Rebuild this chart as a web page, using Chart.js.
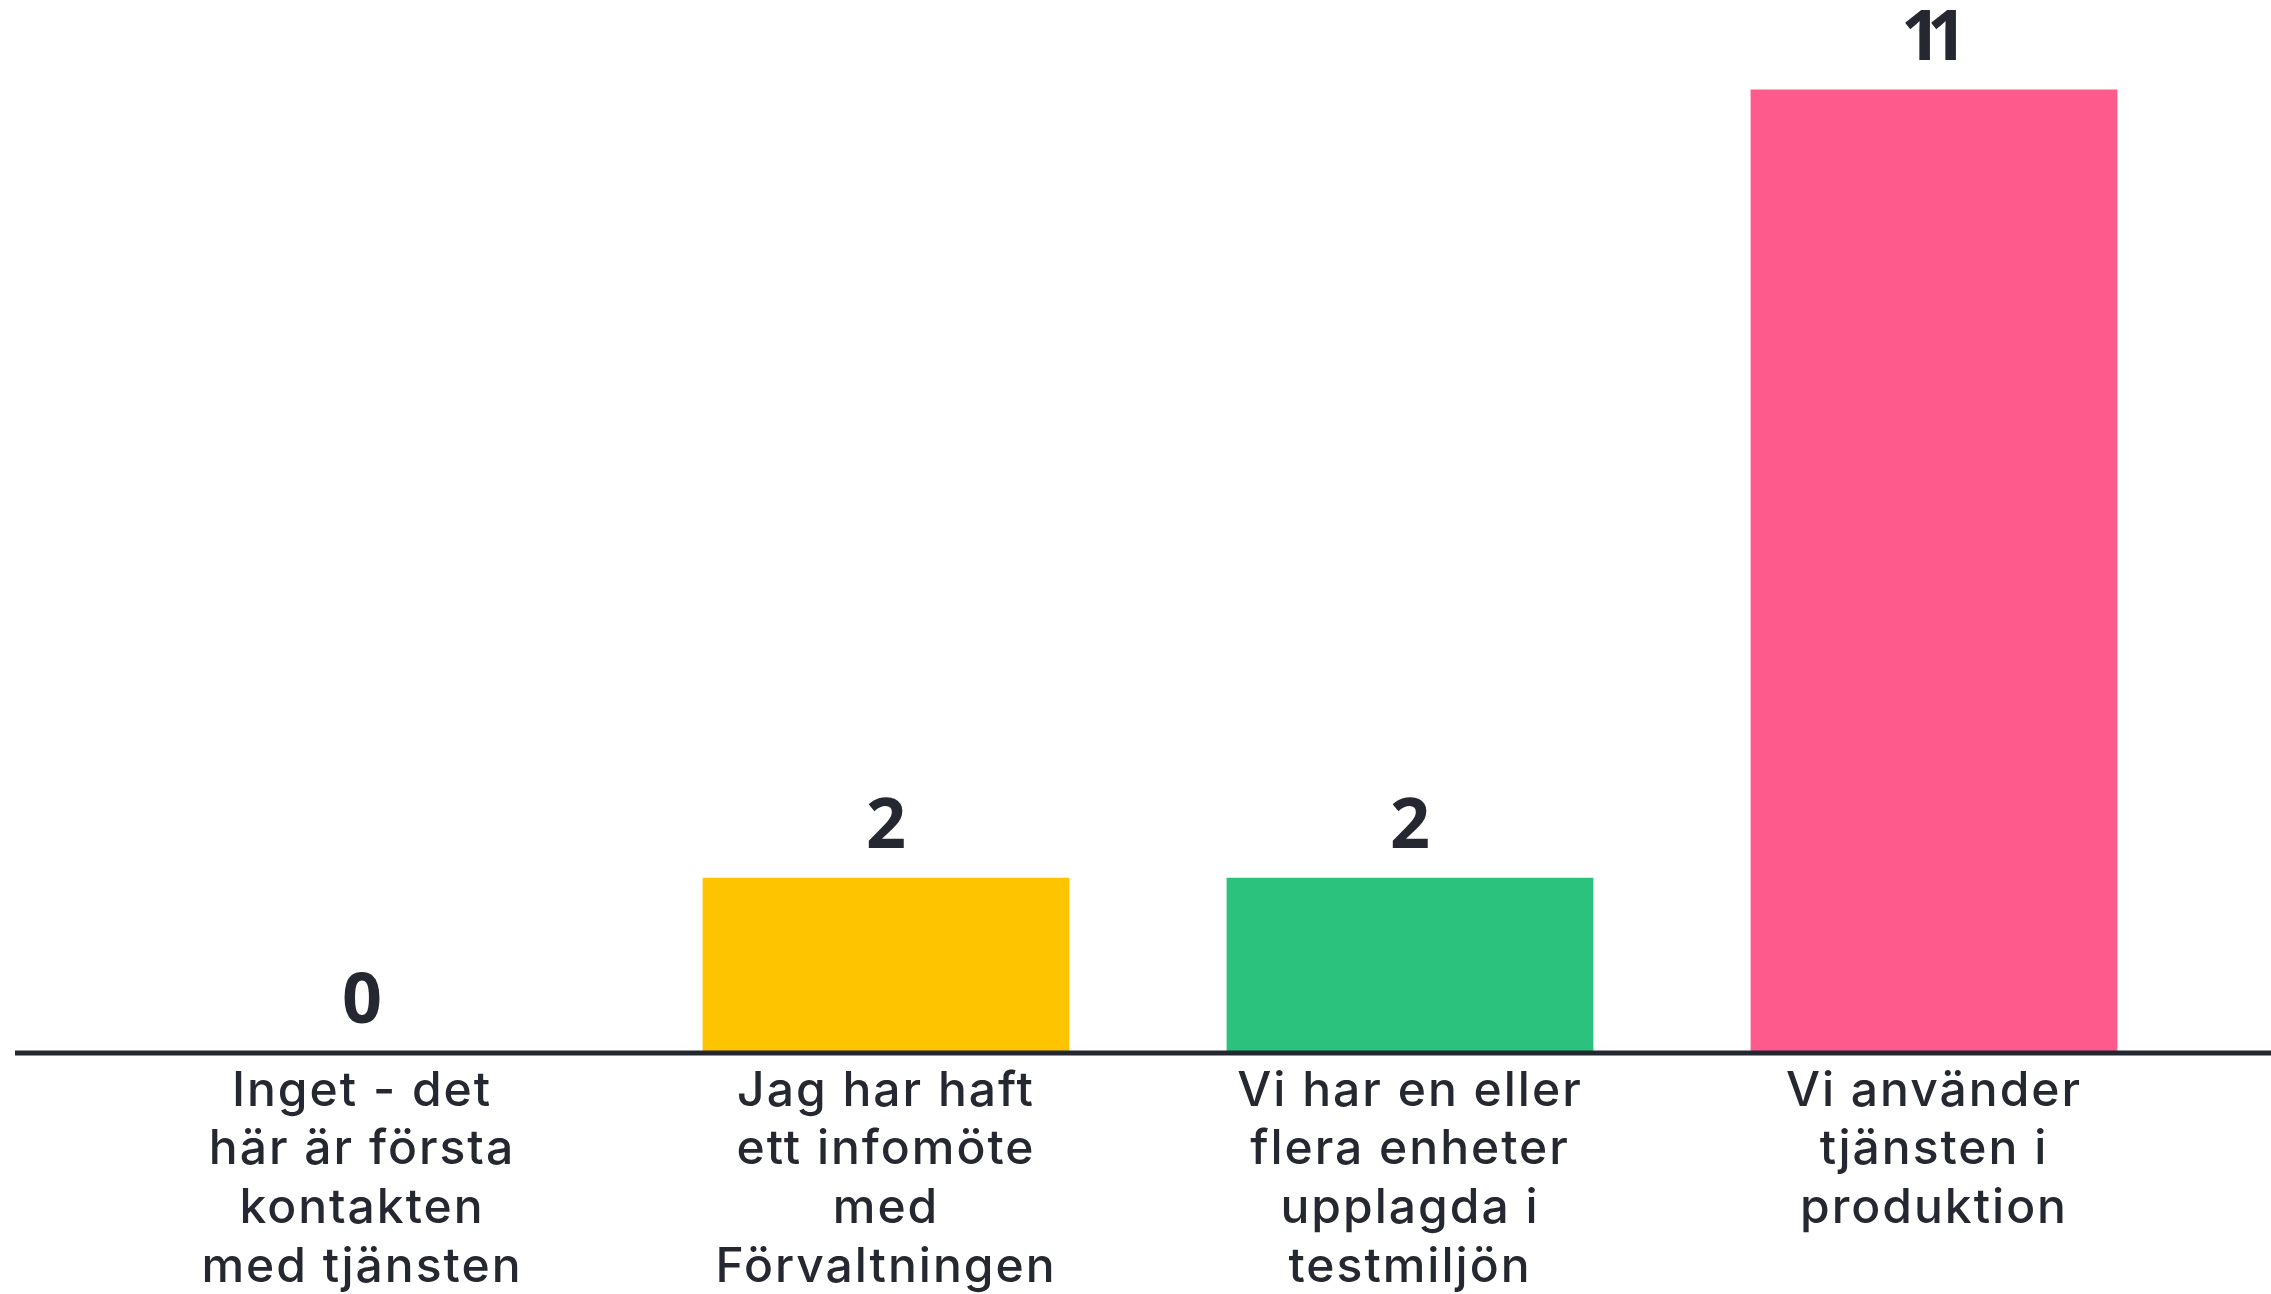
<!DOCTYPE html>
<html><head><meta charset="utf-8">
<style>html,body{margin:0;padding:0;background:#fff;overflow:hidden}
#wrap{width:2271px;height:1294px;position:relative}</style>
<script src="https://cdn.jsdelivr.net/npm/chart.js@4/dist/chart.umd.min.js"></script>
</head><body><div id="wrap"><canvas id="c"></canvas></div>
<script>
const categories = [
  ["Inget - det", "här är första", "kontakten", "med tjänsten"],
  ["Jag har haft", "ett infomöte", "med", "Förvaltningen"],
  ["Vi har en eller", "flera enheter", "upplagda i", "testmiljön"],
  ["Vi använder", "tjänsten i", "produktion"]
];
const values = [0, 2, 2, 11];
const barColors = ["#196CFF", "#FEC400", "#2AC27D", "#FF5A8C"];
const yMin = 0;
const yMax = 12;

const textColor = "#252830";
const labelFont = "Inter, 'Open Sans', sans-serif";
const valueFont = "'Open Sans', 'Noto Sans', sans-serif";

const spacing = {
  id: 'spacing',
  beforeDraw(chart) { try { chart.ctx.letterSpacing = '2px'; } catch (e) {} },
  afterDraw(chart) { try { chart.ctx.letterSpacing = '0px'; } catch (e) {} }
};

const valueLabels = {
  id: 'valueLabels',
  afterDatasetsDraw(chart) {
    const ctx = chart.ctx;
    const meta = chart.getDatasetMeta(0);
    ctx.save();
    ctx.fillStyle = textColor;
    ctx.font = "700 70px " + valueFont;
    ctx.textAlign = 'left';
    ctx.textBaseline = 'middle';
    const s = -14;
    try { ctx.letterSpacing = s + 'px'; } catch (e) {}
    meta.data.forEach((el, i) => {
      const t = String(chart.data.datasets[0].data[i]);
      const w = ctx.measureText(t).width;
      ctx.fillText(t, el.x - (w - s) / 2, el.y - 50);
    });
    ctx.restore();
  }
};

const baseLine = {
  id: 'baseLine',
  afterDatasetsDraw(chart) {
    const ctx = chart.ctx;
    const y = chart.scales.y.getPixelForValue(0);
    ctx.save();
    ctx.strokeStyle = '#23272f';
    ctx.lineWidth = 5;
    ctx.beginPath();
    ctx.moveTo(15, y);
    ctx.lineTo(chart.width, y);
    ctx.stroke();
    ctx.restore();
  }
};

new Chart(document.getElementById('c'), {
  type: 'bar',
  data: {
    labels: categories,
    datasets: [{
      data: values,
      backgroundColor: barColors,
      borderWidth: 0,
      barPercentage: 0.7,
      categoryPercentage: 1.0
    }]
  },
  options: {
    responsive: true,
    maintainAspectRatio: false,
    animation: false,
    layout: { padding: { left: 100, right: 75, top: 2, bottom: 0 } },
    plugins: { legend: { display: false }, tooltip: { enabled: false } },
    scales: {
      x: {
        grid: { display: false, drawTicks: false },
        border: { display: false },
        ticks: {
          color: textColor,
          font: { family: labelFont, size: 48, weight: '500', lineHeight: 1.223 },
          padding: 9,
          maxRotation: 0,
          autoSkip: false
        },
        afterFit(scale) { scale.height = 241; }
      },
      y: { display: false, min: yMin, max: yMax }
    }
  },
  plugins: [spacing, valueLabels, baseLine]
});
</script>
</body></html>
